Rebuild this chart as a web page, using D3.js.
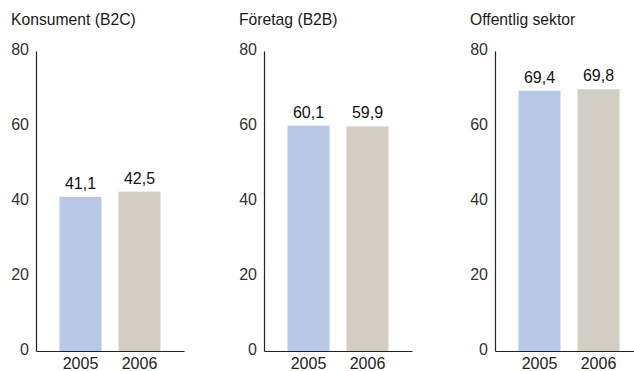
<!DOCTYPE html>
<html>
<head>
<meta charset="utf-8">
<script src="https://cdn.jsdelivr.net/npm/d3@7"></script>
<style>
  body { margin: 0; background: #fff; }
  svg { display: block; font-family: "Liberation Sans", Arial, sans-serif; }
</style>
</head>
<body>
<div id="chart"></div>
<script>
const sectors = ['Konsument (B2C)', 'Företag (B2B)', 'Offentlig sektor'];
const years = ['2005', '2006'];
const values2005 = [41.1, 60.1, 69.4];
const values2006 = [42.5, 59.9, 69.8];
const yTicks = [0, 20, 40, 60, 80];

const width = 634, height = 371;
const colors = { '2005': '#b8c8e6', '2006': '#d2cec4' };
const panelX = [36, 264, 495];   // position of each y axis
const numSize = '16px';

const svg = d3.select('#chart').append('svg')
  .attr('width', width)
  .attr('height', height);

const y = d3.scaleLinear().domain([0, 80]).range([351, 51]);
const x = d3.scaleBand().domain(years).range([0, 148])
  .paddingInner(17 / 59).paddingOuter(0.398);

const fmt = v => d3.format('.1f')(v).replace('.', ',');

sectors.forEach((name, i) => {
  const vals = [values2005[i], values2006[i]];
  const g = svg.append('g').attr('transform', `translate(${panelX[i]},0)`);

  g.append('text')
    .attr('x', -25)
    .attr('y', 25)
    .attr('fill', '#1a1a1a')
    .style('font-size', '15.7px')
    .text(name);

  g.selectAll('rect.bar')
    .data(vals)
    .join('rect')
    .attr('class', 'bar')
    .attr('x', (d, j) => x(years[j]))
    .attr('width', x.bandwidth())
    .attr('y', d => y(d))
    .attr('height', d => y(0) - y(d))
    .attr('fill', (d, j) => colors[years[j]]);

  g.selectAll('text.val')
    .data(vals)
    .join('text')
    .attr('class', 'val')
    .attr('x', (d, j) => x(years[j]) + x.bandwidth() / 2)
    .attr('y', d => y(d) - 8)
    .attr('text-anchor', 'middle')
    .attr('fill', '#111')
    .style('font-size', numSize)
    .text(fmt);

  // y axis
  const ya = g.append('g')
    .call(d3.axisLeft(y).tickValues(yTicks).tickSize(0).tickPadding(7));
  ya.select('.domain').attr('stroke', '#222').attr('stroke-width', 1.2);
  ya.selectAll('text')
    .attr('dy', '0.2em')
    .attr('fill', '#333')
    .style('font-size', numSize)
    .style('font-family', '"Liberation Sans", Arial, sans-serif');

  // x axis
  const xa = g.append('g')
    .attr('transform', `translate(0,${y(0)})`)
    .call(d3.axisBottom(x).tickSize(0).tickPadding(7));
  xa.select('.domain').attr('stroke', '#222').attr('stroke-width', 1.2);
  xa.selectAll('text')
    .attr('fill', '#222')
    .style('font-size', numSize)
    .style('font-family', '"Liberation Sans", Arial, sans-serif');
});
</script>
</body>
</html>
